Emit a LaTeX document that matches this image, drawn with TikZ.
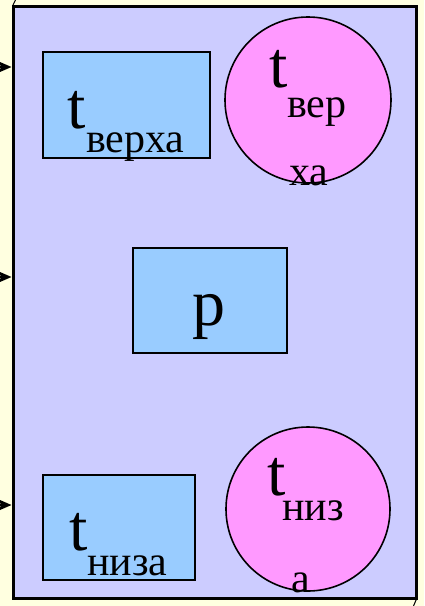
\documentclass[tikz,border=0pt]{standalone}
\usepackage{fontspec}
\setmainfont{Liberation Serif}
\usetikzlibrary{arrows.meta}
\definecolor{pagebg}{HTML}{FFFFE0}
\definecolor{framefill}{HTML}{CCCCFF}
\definecolor{boxfill}{HTML}{99CCFF}
\definecolor{discfill}{HTML}{FF99FF}
\tikzset{
  framebox/.style={draw=black, line width=3pt, fill=framefill, rectangle, inner sep=0pt},
  tempbox/.style={draw=black, line width=2pt, fill=boxfill, rectangle, inner sep=0pt},
  disc/.style={draw=black, line width=1.6pt, fill=discfill, circle, inner sep=0pt},
  bigsym/.style={inner sep=0pt, anchor=base west, font=\fontsize{66}{70}\selectfont},
  subsym/.style={inner sep=0pt, anchor=base west, font=\fontsize{42}{46}\selectfont},
  feed/.style={line width=2.5pt, -{Stealth[length=14pt, width=12pt, inset=4pt]}},
  edge tick/.style={line width=1pt}
}
\begin{document}
\begin{tikzpicture}[x=1pt, y=-1pt]
  % page
  \fill[pagebg] (0,0) rectangle (424,606);
  \useasboundingbox (0,0) rectangle (424,606);

  % outer frame with its corner ticks
  \node[framebox, minimum width=403pt, minimum height=592pt] (frame) at (214.5,302) {};
  \coordinate (tickA1) at (13,5);
  \coordinate (tickA2) at (15.5,0);
  \coordinate (tickB1) at (416.5,599);
  \coordinate (tickB2) at (413.5,606);
  \draw[edge tick] (tickA1) -- (tickA2);
  \draw[edge tick] (tickB1) -- (tickB2);

  % incoming arrows on the left side
  \coordinate (in1) at (-4,67);
  \coordinate (in2) at (-4,277);
  \coordinate (in3) at (-4,505);
  \draw[feed] (in1) -- (in1 -| frame.west);
  \draw[feed] (in2) -- (in2 -| frame.west);
  \draw[feed] (in3) -- (in3 -| frame.west);

  % rectangles
  \node[tempbox, minimum width=167pt, minimum height=106pt] (rtop) at (126.5,105) {};
  \node[tempbox, minimum width=154pt, minimum height=105pt] (rmid) at (210,300.5) {};
  \node[tempbox, minimum width=152pt, minimum height=105pt] (rbot) at (119,527.5) {};

  % circles
  \node[disc, minimum size=166pt] (ctop) at (308,100) {};
  \node[disc, minimum size=164pt] (cbot) at (308,509) {};

  % labels of the rectangles
  \node[bigsym] (rtopT) at (67,128) {t};
  \node[subsym] (rtopS) at (86,152) {верха};
  \node[inner sep=0pt, anchor=base, font=\fontsize{66}{70}\selectfont] (rmidP) at (209,325) {p};
  \node[bigsym] (rbotT) at (69,550) {t};
  \node[subsym] (rbotS) at (87,575) {низа};

  % labels of the circles
  \node[bigsym] (ctopT) at (269,87) {t};
  \node[subsym] (ctopS1) at (287,117) {вер};
  \node[subsym] (ctopS2) at (289,185) {ха};
  \node[bigsym] (cbotT) at (267,495) {t};
  \node[subsym] (cbotS1) at (282,520) {низ};
  \node[subsym] (cbotS2) at (291,592) {а};
\end{tikzpicture}
\end{document}
